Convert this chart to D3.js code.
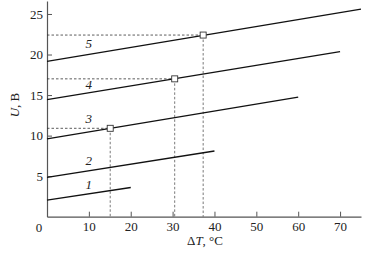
<!DOCTYPE html>
<html>
<head>
<meta charset="utf-8">
<script src="https://cdn.jsdelivr.net/npm/d3@7"></script>
<style>
  body { margin: 0; background: #fff; }
</style>
</head>
<body>
<svg id="chart" width="371" height="253"></svg>
<script>
// line ids, endpoints
const lineIds = ['1', '2', '3', '4', '5'];
const lineX0 = [0, 0, 0, 0, 0];
const lineY0 = [2.05, 4.85, 9.6, 14.45, 19.15];
const lineX1 = [20, 40, 60, 70, 75];
const lineY1 = [3.6, 8.1, 14.75, 20.35, 25.6];
const labelX = [10, 10, 10, 10, 10];
const labelY = [3.4, 6.4, 11.6, 15.8, 20.8];

// marked points with dashed guides
const markX = [15.1, 30.5, 37.3];
const markY = [10.9, 17.0, 22.4];

const xTicks = [10, 20, 30, 40, 50, 60, 70];
const yTicks = [5, 10, 15, 20, 25];

const FONT = 'Liberation Serif';
const svg = d3.select('#chart');

const x = d3.scaleLinear().domain([0, 75]).range([47, 361]);
const y = d3.scaleLinear().domain([0, 26.6]).range([216.7, 1]);

const axisColor = '#555';

// axes
const xAxis = svg.append('g').attr('transform', `translate(0,${y(0)})`)
	.call(d3.axisBottom(x).tickValues(xTicks).tickSizeInner(-5).tickSizeOuter(0).tickPadding(5));
const yAxis = svg.append('g').attr('transform', `translate(${x(0)},0)`)
	.call(d3.axisLeft(y).tickValues(yTicks).tickSizeInner(-5).tickSizeOuter(0).tickPadding(4));

[xAxis, yAxis].forEach((g) => {
	g.select('.domain').attr('stroke', axisColor).attr('stroke-width', 1.2);
	g.selectAll('.tick line').attr('stroke', axisColor);
});

// origin label
svg.append('text').attr('x', x(0) - 8).attr('y', y(0) + 15)
	.attr('text-anchor', 'middle').text('0');

// dashed guides
markX.forEach((mx, i) => {
	svg.append('line')
		.attr('x1', x(0)).attr('x2', x(mx))
		.attr('y1', y(markY[i])).attr('y2', y(markY[i]))
		.attr('stroke', '#333').attr('stroke-width', 0.8).attr('stroke-dasharray', '2.5,2');
	svg.append('line')
		.attr('x1', x(mx)).attr('x2', x(mx))
		.attr('y1', y(markY[i])).attr('y2', y(0))
		.attr('stroke', '#555').attr('stroke-width', 0.8).attr('stroke-dasharray', '2.5,2');
});

// lines
lineIds.forEach((id, i) => {
	svg.append('line')
		.attr('x1', x(lineX0[i])).attr('y1', y(lineY0[i]))
		.attr('x2', x(lineX1[i])).attr('y2', y(lineY1[i]))
		.attr('stroke', '#111').attr('stroke-width', 1.3);
	svg.append('text')
		.attr('x', x(labelX[i])).attr('y', y(labelY[i]))
		.attr('text-anchor', 'middle')
		.style('font-style', 'italic')
		.text(id);
});

// markers
svg.selectAll('rect.mark').data(markX).enter().append('rect')
	.attr('class', 'mark')
	.attr('x', (d) => x(d) - 3).attr('y', (d, i) => y(markY[i]) - 3)
	.attr('width', 6).attr('height', 6)
	.attr('fill', '#fff').attr('stroke', '#333').attr('stroke-width', 0.9);

// axis titles
const yTitle = svg.append('text')
	.attr('transform', 'translate(19,105) rotate(-90)')
	.attr('text-anchor', 'middle');
yTitle.append('tspan').style('font-style', 'italic').text('U');
yTitle.append('tspan').text(', В');

const xTitle = svg.append('text')
	.attr('x', 205).attr('y', 245)
	.attr('text-anchor', 'middle');
xTitle.append('tspan').text('Δ');
xTitle.append('tspan').style('font-style', 'italic').text('T');
xTitle.append('tspan').text(', °C');

svg.selectAll('text').style('font-family', FONT).style('font-size', '13px').attr('fill', '#222');
</script>
</body>
</html>
